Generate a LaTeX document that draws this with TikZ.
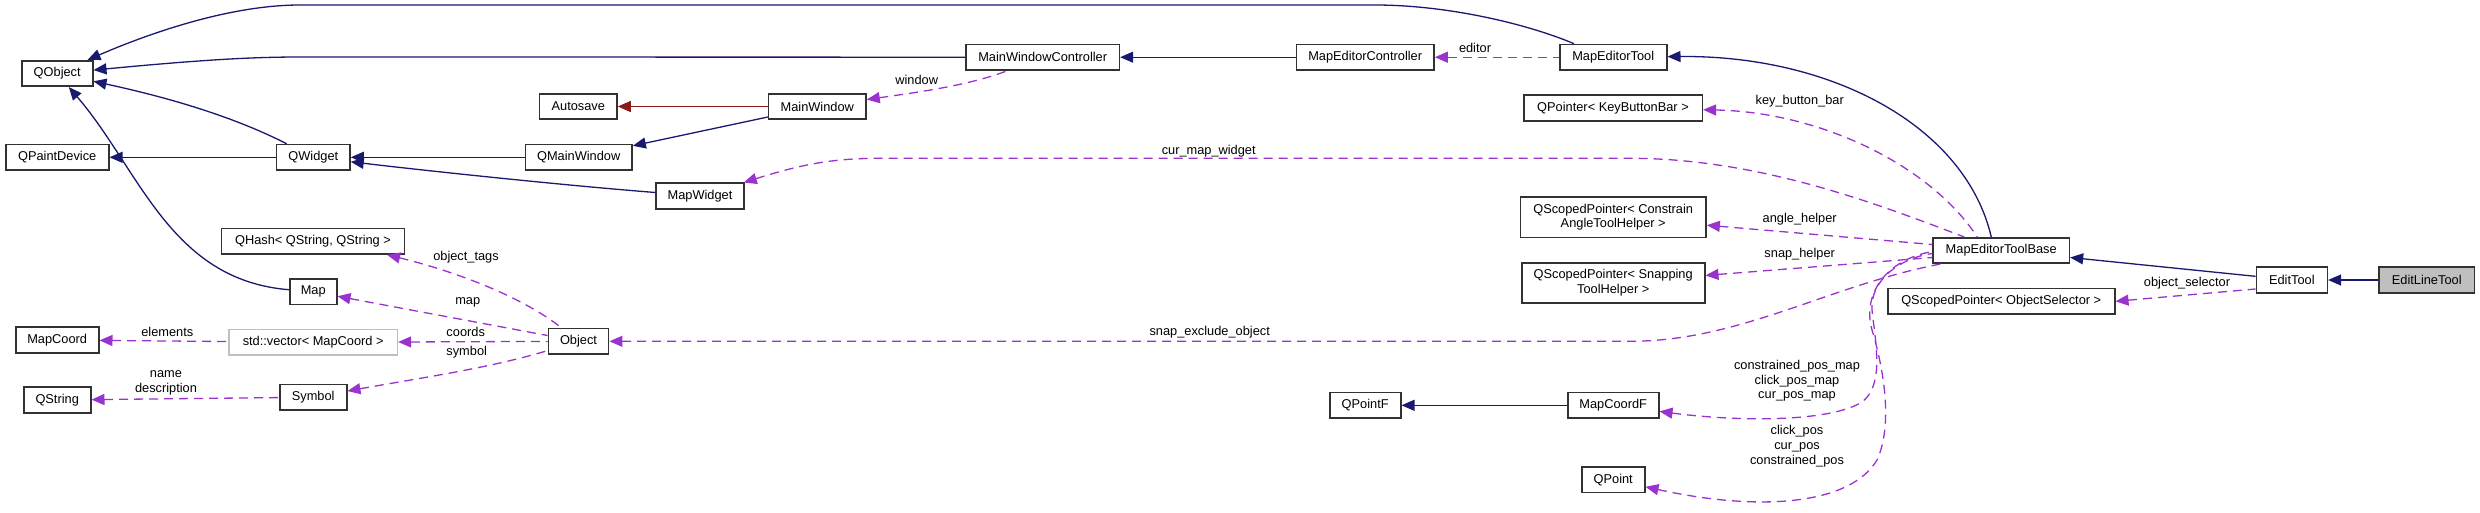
\documentclass[tikz,border=0pt]{standalone}
\usepackage{fontspec}
\setmainfont{Liberation Sans}
\usetikzlibrary{arrows.meta}
\definecolor{inhblue}{RGB}{25, 25, 112}
\definecolor{usepurple}{RGB}{154, 50, 205}
\definecolor{protred}{RGB}{139, 26, 26}
\definecolor{boxedge}{RGB}{50, 50, 50}
\definecolor{greybox}{RGB}{191, 191, 191}

\begin{document}
\begin{tikzpicture}[x=1pt, y=-1pt, font=\fontsize{12.8}{14.6}\selectfont,
        cls/.style={draw=boxedge, line width=1.6pt, fill=white, minimum height=25.5pt,
                    inner xsep=4pt, inner ysep=0pt, align=center},
        lbl/.style={inner sep=0pt, align=center},
        inh/.style={draw=inhblue, line width=1.3pt, {Triangle[length=13pt, width=11pt]}-},
        prot/.style={inh, draw=protred},
        use/.style={inh, draw=usepurple, dash pattern=on 9pt off 6pt}]
    \useasboundingbox (0,0) rectangle (2480,512);

    % classes
    \node[cls, minimum width=71pt] (QObject) at (57.2,73.5) {QObject};
    \node[cls, minimum width=103pt] (QPaintDevice) at (57.2,157.3) {QPaintDevice};
    \node[cls, minimum width=73.3pt] (QWidget) at (313.3,157.3) {QWidget};
    \node[cls, minimum width=182.7pt] (QHash) at (313,241.3) {QHash< QString, QString >};
    \node[cls, minimum width=47pt] (Map) at (313.2,291.7) {Map};
    \node[cls, minimum width=83pt] (MapCoord) at (57.2,340) {MapCoord};
    \node[cls, draw=greybox, minimum width=168.3pt] (stdvector) at (313.2,342.3) {std::vector< MapCoord >};
    \node[cls, minimum width=67pt] (QString) at (57.2,400) {QString};
    \node[cls, minimum width=67pt] (Symbol) at (313.2,397.2) {Symbol};
    \node[cls, minimum width=77.3pt] (Autosave) at (578.3,106.5) {Autosave};
    \node[cls, minimum width=106.7pt] (QMainWindow) at (578.7,157.3) {QMainWindow};
    \node[cls, minimum width=60.3pt] (Object) at (578.5,341.3) {Object};
    \node[cls, minimum width=97.3pt] (MainWindow) at (817.3,106.5) {MainWindow};
    \node[cls, minimum width=88pt] (MapWidget) at (700,196) {MapWidget};
    \node[cls, minimum width=153.3pt] (MainWindowController) at (1042.7,57.2) {MainWindowController};
    \node[cls, minimum width=137.7pt] (MapEditorController) at (1365.2,57.2) {MapEditorController};
    \node[cls, minimum width=71pt] (QPointF) at (1365.2,405.3) {QPointF};
    \node[cls, minimum width=107pt] (MapEditorTool) at (1613.2,57.2) {MapEditorTool};
    \node[cls, minimum width=178.6pt] (QPointerKBB) at (1613,108) {QPointer< KeyButtonBar >};
    \node[cls, minimum width=185.7pt, minimum height=40.3pt] (QSPConstrain) at (1613.2,217.2)
        {QScopedPointer< Constrain\\AngleToolHelper >};
    \node[cls, minimum width=183pt, minimum height=40pt] (QSPSnapping) at (1613.2,282.7)
        {QScopedPointer< Snapping\\ToolHelper >};
    \node[cls, minimum width=91pt] (MapCoordF) at (1613.2,405.3) {MapCoordF};
    \node[cls, minimum width=63pt] (QPoint) at (1613.2,479.7) {QPoint};
    \node[cls, minimum width=136.3pt] (MapEditorToolBase) at (2001.2,250.5) {MapEditorToolBase};
    \node[cls, minimum width=227pt] (QSPObjectSelector) at (2001.2,301.3) {QScopedPointer< ObjectSelector >};
    \node[cls, minimum width=71pt] (EditTool) at (2291.8,280) {EditTool};
    \node[cls, fill=greybox, minimum width=95.3pt] (EditLineTool) at (2426.7,280) {EditLineTool};

    % inheritance
    \draw[inh] ([xshift=-6pt]QObject.north east) .. controls (150,33) and (230,5) .. (300,5)
        -- (1375,5) .. controls (1450,5) and (1530,25) .. ([xshift=15pt]MapEditorTool.north west);
    \draw[inh] (QObject) .. controls (200,60) and (250,57) .. (300,57) -- (MainWindowController);
    \draw[inh] (QObject) .. controls (180,100) and (240,120) .. (QWidget);
    \draw[inh] (QObject) .. controls (140,170) and (170,280) .. (Map);
    \draw[inh] (QPaintDevice) -- (QWidget);
    \draw[inh] (QWidget) -- (QMainWindow);
    \draw[inh] (QWidget) .. controls (420,170) and (560,185) .. (MapWidget);
    \draw[inh] (QMainWindow) -- (MainWindow);
    \draw[prot] (Autosave) -- (MainWindow);
    \draw[inh] (MainWindowController) -- (MapEditorController);
    \draw[inh] (MapEditorTool) .. controls (1830,55) and (1965,125) .. ([xshift=59pt]MapEditorToolBase.north west);
    \draw[inh] (MapEditorToolBase) -- (EditTool);
    \draw[inh] (EditTool) -- (EditLineTool);
    \draw[inh] (QPointF) -- (MapCoordF);

    % members
    \draw[use] (MainWindow) .. controls (920,92) and (970,85) .. (MainWindowController);
    \draw[use] (MapEditorController) -- (MapEditorTool);
    \draw[use] (QPointerKBB) .. controls (1820,112) and (1930,165) .. ([xshift=45pt]MapEditorToolBase.north west);
    \draw[use] (MapWidget) .. controls (800,165) and (830,158.3) .. (880,158.3) -- (1630,158.3)
        .. controls (1760,158.3) and (1880,205) .. ([xshift=32pt]MapEditorToolBase.north west);
    \draw[use] (QSPConstrain) -- ([yshift=6pt]MapEditorToolBase.west);
    \draw[use] (QSPSnapping) -- ([yshift=-7pt]MapEditorToolBase.west);
    \draw[use] (Object) -- (1630,341.3) .. controls (1740,341.3) and (1830,285) .. ([xshift=8pt]MapEditorToolBase.south west);
    \draw[use] (MapCoordF) .. controls (1740,422) and (1830,422) .. (1862,402)
        .. controls (1885,385) and (1875,340) .. (1872,310)
        .. controls (1870,280) and (1900,258) .. ([yshift=-3pt]MapEditorToolBase.west);
    \draw[use] (QPoint) .. controls (1760,512) and (1850,505) .. (1877,460)
        .. controls (1893,425) and (1884,370) .. (1872,330)
        .. controls (1862,295) and (1885,260) .. ([yshift=-1pt]MapEditorToolBase.west);
    \draw[use] (QSPObjectSelector.east) -- ([yshift=-9pt]EditTool.west);
    \draw[use] ([xshift=-18pt]QHash.south east) .. controls (450,270) and (520,295) .. (Object);
    \draw[use] (Map) -- (Object);
    \draw[use] (stdvector) -- (Object);
    \draw[use] (Symbol) .. controls (420,378) and (490,368) .. (Object);
    \draw[use] (MapCoord) -- (stdvector);
    \draw[use] (QString) -- (Symbol);

    % member names
    \node[lbl] (lWindow) at (916.7,80.3) {window};
    \node[lbl] (lEditor) at (1475,48.3) {editor};
    \node[lbl] (lCurMap) at (1208.7,150.7) {cur\_map\_widget};
    \node[lbl] (lKeyBar) at (1799.7,100.7) {key\_button\_bar};
    \node[lbl] (lAngle) at (1799.7,219.3) {angle\_helper};
    \node[lbl] (lSnap) at (1799.7,254.3) {snap\_helper};
    \node[lbl] (lExclude) at (1209.7,332.3) {snap\_exclude\_object};
    \node[lbl] (lPosMap) at (1797,381) {constrained\_pos\_map\\click\_pos\_map\\cur\_pos\_map};
    \node[lbl] (lPos) at (1797,446.2) {click\_pos\\cur\_pos\\constrained\_pos};
    \node[lbl] (lSelector) at (2187,283.3) {object\_selector};
    \node[lbl] (lTags) at (466,257) {object\_tags};
    \node[lbl] (lMap) at (467.7,302.7) {map};
    \node[lbl] (lCoords) at (465.7,332) {coords};
    \node[lbl] (lSymbol) at (466.7,352) {symbol};
    \node[lbl] (lElements) at (167.3,331.7) {elements};
    \node[lbl] (lName) at (166,383) {name\\description};
\end{tikzpicture}
\end{document}
